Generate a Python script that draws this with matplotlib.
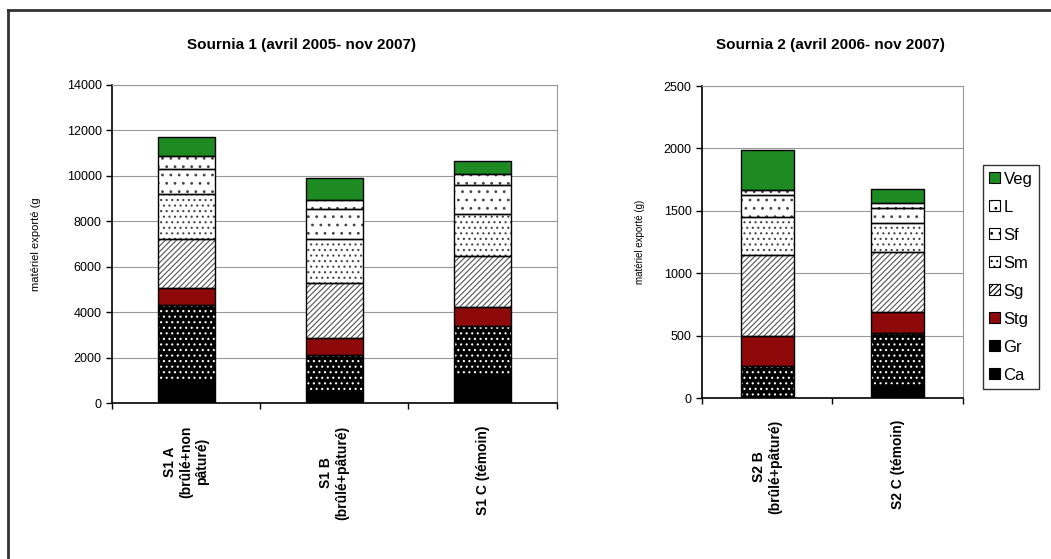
import matplotlib.pyplot as plt
from matplotlib.patches import Patch
import numpy as np

plt.rcParams['font.family'] = ['Liberation Sans', 'DejaVu Sans']
plt.rcParams['hatch.linewidth'] = 0.8

## donnees (g), valeurs de chaque composante
composantes = ['Ca', 'Gr', 'Stg', 'Sg', 'Sm', 'Sf', 'L', 'Veg']

s1_labels = ['S1 A\n(brûlé+non\npâturé)', 'S1 B\n(brûlé+pâturé)', 'S1 C (témoin)']
s1_Ca = [1000, 500, 1180]
s1_Gr = [3300, 1600, 2210]
s1_Stg = [770, 780, 840]
s1_Sg = [2170, 2420, 2230]
s1_Sm = [1950, 1940, 1880]
s1_Sf = [1090, 1320, 1240]
s1_L = [590, 370, 520]
s1_Veg = [850, 960, 560]

s2_labels = ['S2 B\n(brûlé+pâturé)', 'S2 C (témoin)']
s2_Ca = [0, 105]
s2_Gr = [260, 415]
s2_Stg = [240, 170]
s2_Sg = [650, 480]
s2_Sm = [300, 230]
s2_Sf = [175, 120]
s2_L = [45, 40]
s2_Veg = [320, 115]

## stil
stil = {
    'Ca': dict(fc='black', hc=None, h=None),
    'Gr': dict(fc='black', hc='white', h='...'),
    'Stg': dict(fc='#8e0a0a', hc=None, h=None),
    'Sg': dict(fc='white', hc='#555555', h='//////'),
    'Sm': dict(fc='white', hc='#444444', h='...'),
    'Sf': dict(fc='white', hc='#444444', h='..'),
    'L': dict(fc='white', hc='#444444', h='..'),
    'Veg': dict(fc='#1d8a22', hc=None, h=None),
}


def stolpci(ax, serije, width):
    x = np.arange(len(serije[0]))
    spodaj = np.zeros(len(x))
    for ime, vals in zip(composantes, serije):
        s = stil[ime]
        vals = np.array(vals, dtype=float)
        ax.bar(x, vals, width, bottom=spodaj, color=s['fc'], linewidth=0, zorder=2)
        if s['h'] is not None:
            ax.bar(x, vals, width, bottom=spodaj, facecolor='none', edgecolor=s['hc'],
                   hatch=s['h'], linewidth=0, zorder=3)
        ax.bar(x, vals, width, bottom=spodaj, facecolor='none', edgecolor='black',
               linewidth=1.0, zorder=4)
        spodaj = spodaj + vals
    return x


def oblika(ax, x, labels):
    ax.set_xlim(-0.5, len(x) - 0.5)
    ax.set_xticks(np.arange(len(x) + 1) - 0.5)
    ax.set_xticklabels([])
    ax.tick_params(axis='x', length=4, width=1)
    ax.tick_params(axis='y', labelsize=9, length=4, width=1)
    ax.grid(axis='y', color='#999999', linewidth=0.8, zorder=0)
    ax.set_axisbelow(True)
    for sp in ['top', 'right']:
        ax.spines[sp].set_color('#999999')
    ax.spines['left'].set_linewidth(1.2)
    ax.spines['bottom'].set_linewidth(1.2)
    for xi, lab in zip(x, labels):
        ax.text(xi, -0.07, lab, transform=ax.get_xaxis_transform(), rotation=90,
                ha='center', va='top', multialignment='center',
                fontsize=10, fontweight='bold')


fig = plt.figure(figsize=(10.51, 5.59), dpi=100)

ax1 = fig.add_axes([0.1066, 0.279, 0.423, 0.569])
x1 = stolpci(ax1, [s1_Ca, s1_Gr, s1_Stg, s1_Sg, s1_Sm, s1_Sf, s1_L, s1_Veg], 0.385)
oblika(ax1, x1, s1_labels)
ax1.set_ylim(0, 14000)
ax1.set_yticks(np.arange(0, 14001, 2000))
ax1.set_ylabel('matériel exporté (g', fontsize=8)
ax1.yaxis.set_label_coords(-0.16, 0.5)
fig.text(0.287, 0.92, 'Sournia 1 (avril 2005- nov 2007)', ha='center', va='center',
         fontsize=11, fontweight='bold')

ax2 = fig.add_axes([0.668, 0.288, 0.248, 0.558])
x2 = stolpci(ax2, [s2_Ca, s2_Gr, s2_Stg, s2_Sg, s2_Sm, s2_Sf, s2_L, s2_Veg], 0.41)
oblika(ax2, x2, s2_labels)
ax2.set_ylim(0, 2500)
ax2.set_yticks(np.arange(0, 2501, 500))
ax2.set_ylabel('matériel exporté (g)', fontsize=7)
ax2.yaxis.set_label_coords(-0.22, 0.5)
fig.text(0.79, 0.92, 'Sournia 2 (avril 2006- nov 2007)', ha='center', va='center',
         fontsize=11, fontweight='bold')

## legenda
rocaji = []
for ime in composantes[::-1]:
    s = stil[ime]
    rocaji.append(Patch(facecolor=s['fc'], edgecolor='black',
                        hatch=s['h'] if s['fc'] == 'white' else None, linewidth=0.8))
leg = fig.legend(rocaji, composantes[::-1], loc='upper left',
                 bbox_to_anchor=(0.935, 0.705), fontsize=12, frameon=True,
                 fancybox=False, edgecolor='black', handlelength=0.65,
                 handleheight=0.65, handletextpad=0.2, labelspacing=0.78,
                 borderpad=0.4, borderaxespad=0)
leg.get_frame().set_linewidth(1.0)

## okvir
fig.add_artist(plt.Line2D([0.008, 0.008], [0.0, 0.982], color='#333333', linewidth=2,
                          transform=fig.transFigure))
fig.add_artist(plt.Line2D([0.008, 1.0], [0.982, 0.982], color='#333333', linewidth=2,
                          transform=fig.transFigure))

plt.savefig('out.png', dpi=100)
